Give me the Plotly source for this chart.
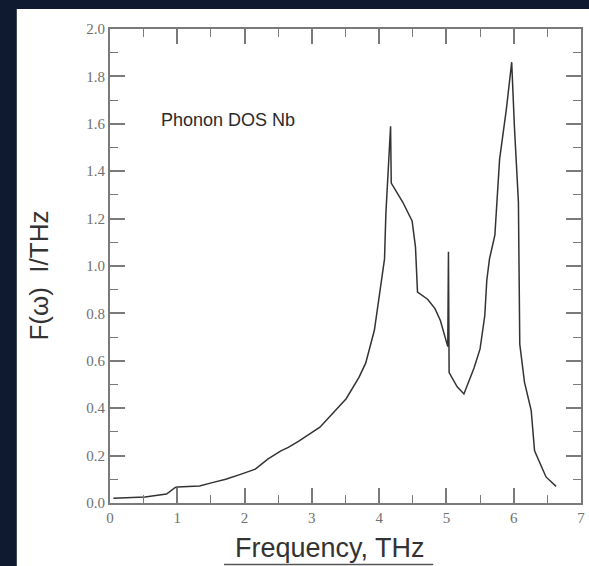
import plotly.graph_objects as go

# Data (frequency in THz, DOS F(w) in 1/THz)
freq = [0.05, 0.52, 0.84, 0.91, 0.97, 1.00, 1.33, 1.52, 1.72, 1.95, 2.16, 2.35, 2.54,
        2.65, 2.80, 3.12, 3.51, 3.70, 3.80, 3.93, 4.00, 4.08, 4.10, 4.14, 4.17, 4.18,
        4.35, 4.49, 4.54, 4.57, 4.72, 4.83, 4.91, 4.98, 5.02, 5.03, 5.04, 5.16, 5.26,
        5.41, 5.50, 5.57, 5.60, 5.64, 5.72, 5.79, 5.89, 5.97, 6.01, 6.07, 6.09, 6.16,
        6.26, 6.31, 6.48, 6.63]
dos = [0.02, 0.025, 0.038, 0.055, 0.066, 0.067, 0.072, 0.086, 0.10, 0.122, 0.143, 0.186, 0.22,
       0.235, 0.26, 0.32, 0.44, 0.53, 0.59, 0.73, 0.87, 1.03, 1.22, 1.41, 1.59, 1.35,
       1.27, 1.19, 1.08, 0.89, 0.86, 0.82, 0.77, 0.70, 0.66, 1.06, 0.55, 0.49, 0.46,
       0.57, 0.65, 0.79, 0.94, 1.03, 1.13, 1.45, 1.66, 1.86, 1.59, 1.27, 0.67, 0.51,
       0.39, 0.22, 0.11, 0.07]

x_ticks = [0, 1, 2, 3, 4, 5, 6, 7]
y_ticks = [0.0, 0.2, 0.4, 0.6, 0.8, 1.0, 1.2, 1.4, 1.6, 1.8, 2.0]

title_text = "Phonon DOS Nb"
x_title = "Frequency, THz"
y_title = "F(ω)  I/THz"

W, H = 589, 566
L, R, T, B = 110, 4, 29, 63
pw, ph = W - L - R, H - T - B


def px(xp):
    return (xp - L) / pw


def py(yp):
    return (H - B - yp) / ph


fig = go.Figure()
fig.add_trace(go.Scatter(x=freq, y=dos, mode="lines",
                         line=dict(color="#333333", width=1.5),
                         showlegend=False, hoverinfo="skip"))

axis_common = dict(
    showgrid=False, zeroline=False, showline=True, linecolor="#7a7a7a", linewidth=2,
    mirror="allticks", ticks="inside", ticklen=15, tickwidth=1.5, tickcolor="#7a7a7a",
    tickfont=dict(family="Liberation Serif", size=15, color="#707070"),
)

fig.update_xaxes(range=[0, 7], tickvals=x_ticks, ticktext=[str(v) for v in x_ticks],
                 minor=dict(ticks="inside", ticklen=8, tickwidth=1.2, tickcolor="#7a7a7a",
                            dtick=0.5, tick0=0),
                 **axis_common)
fig.update_yaxes(range=[0, 2], tickvals=y_ticks, ticktext=[f"{v:.1f}" for v in y_ticks],
                 minor=dict(ticks="inside", ticklen=8, tickwidth=1.2, tickcolor="#7a7a7a",
                            dtick=0.1, tick0=0),
                 **axis_common)

shapes = [
    # white panel behind the chart
    dict(type="rect", xref="paper", yref="paper", x0=px(16), x1=px(W + 5),
         y0=py(H + 5), y1=py(9), fillcolor="white", line=dict(width=0), layer="below"),
    # underline of x title
    dict(type="line", xref="paper", yref="paper", x0=px(225), x1=px(436),
         y0=py(564.5), y1=py(564.5), line=dict(color="#555555", width=1.5)),
]

annotations = [
    dict(text=title_text, xref="paper", yref="paper", x=px(229), y=py(120),
         showarrow=False, font=dict(family="Liberation Sans", size=18, color="#2a2a2a"),
         xanchor="center", yanchor="middle"),
    dict(text=x_title, xref="paper", yref="paper", x=px(332), y=py(548),
         showarrow=False, font=dict(family="Liberation Sans", size=27, color="#333333"),
         xanchor="center", yanchor="middle"),
    dict(text=y_title, xref="paper", yref="paper", x=px(38), y=py(276),
         showarrow=False, textangle=-90,
         font=dict(family="Liberation Sans", size=26, color="#333333"),
         xanchor="center", yanchor="middle"),
]

fig.update_layout(
    width=W, height=H, margin=dict(l=L, r=R, t=T, b=B),
    paper_bgcolor="#0f1a30", plot_bgcolor="white",
    shapes=shapes, annotations=annotations,
)

fig.write_html("out.html")
